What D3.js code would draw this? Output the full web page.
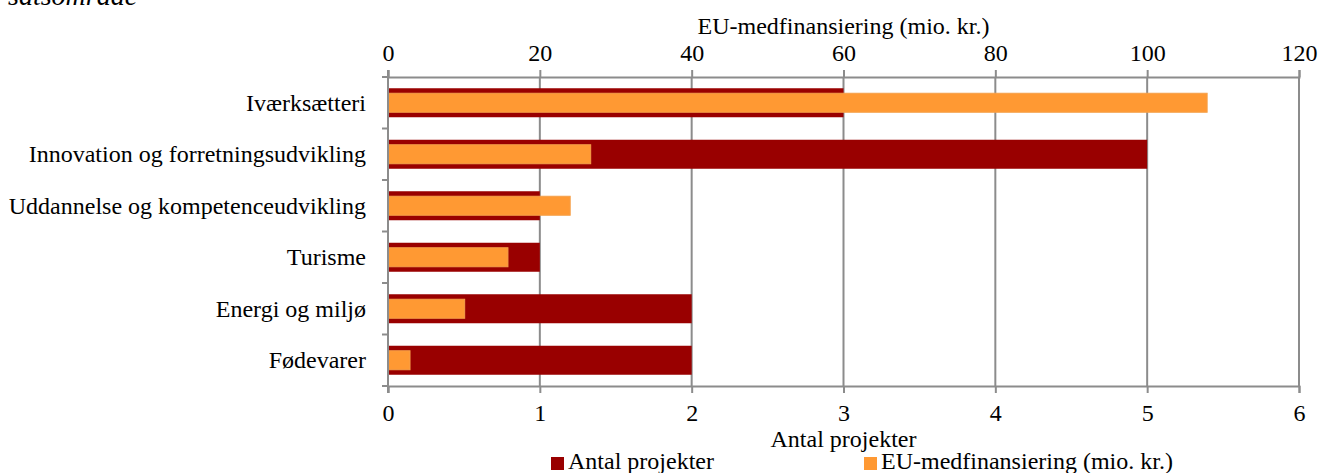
<!DOCTYPE html>
<html>
<head>
<meta charset="utf-8">
<script src="https://cdn.jsdelivr.net/npm/d3@7"></script>
<style>
  body { margin: 0; background: #fff; }
  text { font-family: "Liberation Serif", "Times New Roman", serif; fill: #000; }
</style>
</head>
<body>
<script>
// categories top to bottom
var categories = ["Iværksætteri", "Innovation og forretningsudvikling", "Uddannelse og kompetenceudvikling", "Turisme", "Energi og miljø", "Fødevarer"];
var antal = [3, 5, 1, 1, 2, 2];
var eu = [107.9, 26.7, 24, 15.8, 10.1, 2.9];
var antalTicks = [0, 1, 2, 3, 4, 5, 6];
var euTicks = [0, 20, 40, 60, 80, 100, 120];

var margin = { top: 77, left: 388, right: 21, bottom: 87 };
var width = 1320, height = 473;
var innerW = width - margin.left - margin.right;
var innerH = height - margin.top - margin.bottom;
var fs = "24px";

var svg = d3.select("body").append("svg")
  .attr("width", width)
  .attr("height", height);

// caption, cut off at the top edge like in the original
svg.append("text")
  .attr("x", 8).attr("y", 5)
  .style("font-style", "italic")
  .style("font-size", "28px")
  .text("satsområde");

var g = svg.append("g").attr("transform", "translate(" + margin.left + "," + margin.top + ")");

var xA = d3.scaleLinear().domain([0, 6]).range([0, innerW]);
var xE = d3.scaleLinear().domain([0, 120]).range([0, innerW]);
var y = d3.scaleBand().domain(categories).range([0, innerH]);

var grey = "#8c8c8c";

// vertical gridlines
g.selectAll(".grid").data(antalTicks.slice(1)).enter()
  .append("line")
  .attr("x1", function(d) { return xA(d); })
  .attr("x2", function(d) { return xA(d); })
  .attr("y1", 0).attr("y2", innerH)
  .attr("stroke", grey).attr("stroke-width", 2);

// dark red bars: antal projekter
var barH = 29;
g.selectAll(".antal").data(categories).enter()
  .append("rect")
  .attr("x", 0)
  .attr("y", function(d) { return y(d) + y.bandwidth() / 2 - barH / 2; })
  .attr("width", function(d, i) { return xA(antal[i]); })
  .attr("height", barH)
  .attr("fill", "#990000");

// orange bars: EU-medfinansiering
var euH = 19;
g.selectAll(".eu").data(categories).enter()
  .append("rect")
  .attr("x", 0)
  .attr("y", function(d) { return y(d) + y.bandwidth() / 2 - euH / 2; })
  .attr("width", function(d, i) { return xE(eu[i]); })
  .attr("height", euH)
  .attr("fill", "#ff9933")
  .attr("stroke", "#f5a04a").attr("stroke-width", 1);

// bottom axis
var axBottom = g.append("g")
  .attr("transform", "translate(0," + innerH + ")")
  .call(d3.axisBottom(xA).tickValues(antalTicks).tickSize(7).tickPadding(11).tickFormat(d3.format("d")));

// top axis
var axTop = g.append("g")
  .call(d3.axisTop(xE).tickValues(euTicks).tickSize(7).tickPadding(9).tickFormat(d3.format("d")));

// left category axis, ticks at band edges
var axLeft = g.append("g");
axLeft.append("line")
  .attr("x1", 0).attr("x2", 0).attr("y1", -7).attr("y2", innerH + 7)
  .attr("stroke", grey).attr("stroke-width", 2);
axLeft.selectAll(".ct").data(d3.range(categories.length + 1)).enter()
  .append("line")
  .attr("x1", -6).attr("x2", 0)
  .attr("y1", function(i) { return i * y.step(); })
  .attr("y2", function(i) { return i * y.step(); })
  .attr("stroke", grey).attr("stroke-width", 2);
axLeft.selectAll(".cl").data(categories).enter()
  .append("text")
  .attr("x", -22)
  .attr("y", function(d) { return y(d) + y.bandwidth() / 2; })
  .attr("dy", "0.33em")
  .attr("text-anchor", "end")
  .style("font-size", fs)
  .text(function(d) { return d; });

[axBottom, axTop].forEach(function(ax) {
  ax.attr("font-family", null).attr("font-size", null);
  ax.select(".domain").attr("stroke", grey).attr("stroke-width", 2);
  ax.selectAll(".tick line").attr("stroke", grey).attr("stroke-width", 2);
  ax.selectAll(".tick text").style("font-size", fs).attr("fill", "#000");
});

// axis titles
svg.append("text")
  .attr("x", margin.left + innerW / 2).attr("y", 34)
  .attr("text-anchor", "middle")
  .style("font-size", fs)
  .text("EU-medfinansiering (mio. kr.)");
svg.append("text")
  .attr("x", margin.left + innerW / 2).attr("y", 447)
  .attr("text-anchor", "middle")
  .style("font-size", fs)
  .text("Antal projekter");

// legend
var legend = [
  { name: "Antal projekter", color: "#990000", x: 551 },
  { name: "EU-medfinansiering (mio. kr.)", color: "#ff9933", x: 864 }
];
var lg = svg.selectAll(".lg").data(legend).enter().append("g");
lg.append("rect")
  .attr("x", function(d) { return d.x; }).attr("y", 457)
  .attr("width", 13).attr("height", 13)
  .attr("fill", function(d) { return d.color; });
lg.append("text")
  .attr("x", function(d) { return d.x + 17; }).attr("y", 469)
  .style("font-size", fs)
  .text(function(d) { return d.name; });
</script>
</body>
</html>
